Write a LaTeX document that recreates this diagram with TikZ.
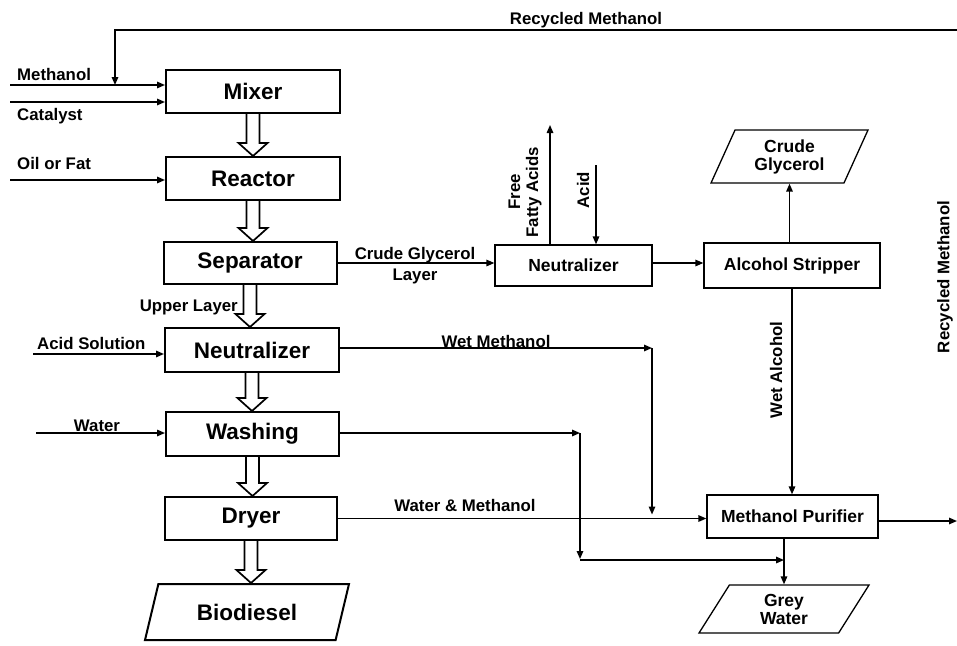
\documentclass[tikz,border=0pt]{standalone}
\usepackage{fontspec}
\setmainfont{Liberation Sans}
\usetikzlibrary{arrows.meta,shapes.geometric,calc}
\tikzset{
  bigbox/.style={draw,line width=2pt,inner sep=0pt,font=\fontsize{22.5}{25}\selectfont\bfseries},
  smallbox/.style={draw,line width=1.3pt,inner sep=0pt,font=\fontsize{17.5}{19}\selectfont\bfseries},
  para/.style={draw,trapezium,trapezium stretches body,inner sep=0pt,align=center},
  lbl/.style={inner sep=0pt,font=\fontsize{16.8}{18}\selectfont\bfseries},
  arr/.style={line width=1.5pt,-{Triangle[length=8pt,width=6.5pt]}},
  blockarr/.style={line width=1.7pt,fill=white,line join=miter}
}
\newcommand\hollowarrow[2]{%
  \draw[blockarr] let \p1=(#1.south), \p2=(#2.north) in
    (\x1-6.5pt,\y1) -- (\x1-6.5pt,\y2+13pt) -- (\x1-14.5pt,\y2+13pt) -- (\x1,\y2)
    -- (\x1+14.5pt,\y2+13pt) -- (\x1+6.5pt,\y2+13pt) -- (\x1+6.5pt,\y1);}
\begin{document}
\begin{tikzpicture}[x=1pt,y=-1pt]
\useasboundingbox (0,0) rectangle (957,645);
% left column
\node[bigbox,minimum width=174pt,minimum height=43pt] (mixer) at (253,91.5) {Mixer};
\node[bigbox,minimum width=174pt,minimum height=43pt] (reactor) at (253,178.5) {Reactor};
\node[bigbox,minimum width=173pt,minimum height=42pt] (separator) at (250,263) {Separator};
\node[bigbox,minimum width=174pt,minimum height=44pt] (neut1) at (252,350) {Neutralizer};
\node[bigbox,minimum width=173pt,minimum height=44pt] (washing) at (252.5,434) {Washing};
\node[bigbox,minimum width=172pt,minimum height=43pt] (dryer) at (251,518.5) {Dryer};
\node[bigbox,para,trapezium left angle=51,trapezium right angle=129,minimum width=204pt,minimum height=56pt] (bio) at (247,612) {Biodiesel};
% right part
\node[smallbox,minimum width=157pt,minimum height=41pt] (neut2) at (573.5,265.5) {Neutralizer};
\node[smallbox,minimum width=176pt,minimum height=45pt] (stripper) at (792,265.5) {Alcohol Stripper};
\node[smallbox,para,trapezium left angle=55,trapezium right angle=125,minimum width=157pt,minimum height=53pt,font=\fontsize{17.5}{18}\selectfont\bfseries] (cglyc) at (789.5,156.5) {Crude\\Glycerol};
\node[smallbox,minimum width=171pt,minimum height=43pt] (purifier) at (792.5,516.5) {Methanol Purifier};
\node[smallbox,para,trapezium left angle=45,trapezium right angle=135,minimum width=170pt,minimum height=48pt,font=\fontsize{17.5}{18}\selectfont\bfseries] (grey) at (784,609) {Grey\\Water};
% hollow arrows
\hollowarrow{mixer}{reactor}
\hollowarrow{reactor}{separator}
\hollowarrow{separator}{neut1}
\hollowarrow{neut1}{washing}
\hollowarrow{washing}{dryer}
\hollowarrow{dryer}{bio}
% inputs
\coordinate (methIn) at (10,85);
\coordinate (catIn) at (10,102);
\coordinate (oilIn) at (10,180);
\coordinate (acidIn) at (33,354);
\coordinate (waterIn) at (36,433);
\draw[arr] (methIn) -- (methIn -| mixer.west);
\draw[arr] (catIn) -- (catIn -| mixer.west);
\draw[arr] (oilIn) -- (oilIn -| reactor.west);
\draw[arr] (acidIn) -- (acidIn -| neut1.west);
\draw[arr] (waterIn) -- (waterIn -| washing.west);
% recycled methanol top loop
\coordinate (rtR) at (957,30);
\coordinate (rtL) at (115,30);
\draw[arr] (rtR) -- (rtL) -- (rtL |- methIn);
% glycerol path
\draw[arr] (separator.east) -- (separator.east -| neut2.west);
\draw[arr] (neut2.east |- separator.east) -- (stripper.west |- separator.east);
\coordinate (ffa) at (550,125);
\draw[arr] (ffa |- neut2.north) -- (ffa);
\coordinate (acidTop) at (596,165);
\draw[arr] (acidTop) -- (acidTop |- neut2.north);
\draw[arr] (cglyc.south |- stripper.north) -- (cglyc.south);
\draw[arr] (stripper.south) -- (stripper.south |- purifier.north);
% wet methanol
\coordinate (wm) at (652,348);
\draw[arr] (neut1.east |- wm) -- (wm);
\draw[arr] (wm) -- ($(wm |- dryer.east)+(0,-4)$);
% washing water
\coordinate (wc) at (580,433);
\coordinate (wb) at (580,560);
\draw[arr] (washing.east |- wc) -- (wc);
\draw[arr] (wc) -- ($(wb)+(0,-1)$);
\draw[arr] (wb) -- (wb -| grey.north);
% dryer
\draw[arr] (dryer.east) -- (dryer.east -| purifier.west);
% purifier outputs
\coordinate (rr) at (957,521);
\draw[arr] (purifier.east |- rr) -- (rr);
\draw[arr] (purifier.south -| grey.north) -- (grey.north);
% labels
\node[lbl] at (586,20) {Recycled Methanol};
\node[lbl,anchor=west] at (17,74) {Methanol};
\node[lbl,anchor=west] at (17,116) {Catalyst};
\node[lbl,anchor=west] at (17,163) {Oil or Fat};
\node[lbl] at (415,255) {Crude Glycerol};
\node[lbl] at (415,276) {Layer};
\node[lbl,anchor=east] at (238,307) {Upper Layer};
\node[lbl,anchor=west] at (37,343) {Acid Solution};
\node[lbl] at (97,426) {Water};
\node[lbl] at (496,341) {Wet Methanol};
\node[lbl] at (465,505) {Water \& Methanol};
\node[lbl,rotate=90,align=center] at (525,192) {Free\\Fatty Acids};
\node[lbl,rotate=90] at (583,190) {Acid};
\node[lbl,rotate=90] at (776,370) {Wet Alcohol};
\node[lbl,rotate=90] at (945,277) {Recycled Methanol};
\end{tikzpicture}
\end{document}
